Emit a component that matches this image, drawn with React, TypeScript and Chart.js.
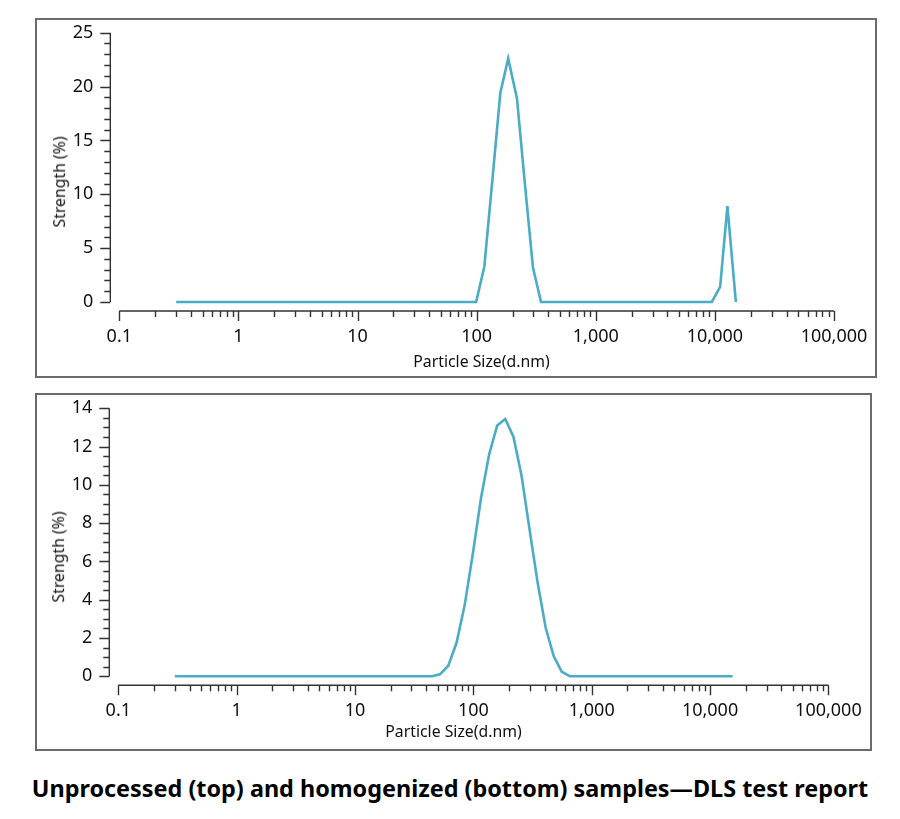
import { useEffect, useRef } from 'react'
import { Chart, registerables } from 'chart.js'

Chart.register(...registerables)

// particle size (d.nm) / strength (%)
const TOP_SIZES = [0.3, 99, 116, 136, 158, 184, 218, 254, 297, 347, 9420, 11070, 12740, 15000]
const TOP_STRENGTH = [0, 0, 3.3, 11.5, 19.4, 22.6, 18.9, 11.0, 3.2, 0, 0, 1.4, 8.9, 0]

const BOTTOM_SIZES = [
  0.3, 44.8, 52.2, 61.4, 72.1, 84.5, 99, 116, 136, 159, 186, 218, 255, 298, 348, 408, 477, 558, 655, 15500,
]
const BOTTOM_STRENGTH = [
  0, 0, 0.1, 0.55, 1.75, 3.72, 6.4, 9.3, 11.6, 13.1, 13.44, 12.52, 10.5, 7.7, 4.95, 2.55, 1.06, 0.24, 0, 0,
]

const X_DECADES = [0.1, 1, 10, 100, 1000, 10000, 100000]

const LINE = '#4bacc6'
const INK = '#111'
const AXIS = '#333'
const FONT = '"Noto Sans", "Open Sans", sans-serif'

type AxesOpts = { yStep: number; yMinor: number }

// axes sit a few px away from the plot area (y axis left of 0.1, x axis below 0)
const detachedAxes = {
  id: 'detachedAxes',
  afterDraw(chart: any, _args: any, opts: AxesOpts) {
    const { ctx, chartArea } = chart
    const xs = chart.scales.x
    const ys = chart.scales.y
    const ax = chartArea.left - 9
    const ay = chartArea.bottom + 9
    ctx.save()
    ctx.strokeStyle = AXIS
    ctx.lineWidth = 1.4
    ctx.beginPath()
    // y axis
    ctx.moveTo(ax, ys.getPixelForValue(ys.max))
    ctx.lineTo(ax, ys.getPixelForValue(0))
    const n = Math.round(ys.max / opts.yMinor)
    for (let i = 0; i <= n; i++) {
      const v = i * opts.yMinor
      const p = Math.round(ys.getPixelForValue(v)) + 0.5
      const major = Math.abs(v / opts.yStep - Math.round(v / opts.yStep)) < 1e-6
      ctx.moveTo(ax - (major ? 10 : 6), p)
      ctx.lineTo(ax, p)
    }
    // x axis
    ctx.moveTo(xs.getPixelForValue(X_DECADES[0]), ay)
    ctx.lineTo(xs.getPixelForValue(X_DECADES[X_DECADES.length - 1]), ay)
    X_DECADES.forEach((d, i) => {
      const p = Math.round(xs.getPixelForValue(d)) + 0.5
      ctx.moveTo(p, ay)
      ctx.lineTo(p, ay + 10)
      if (i < X_DECADES.length - 1) {
        for (let k = 2; k <= 9; k++) {
          const q = Math.round(xs.getPixelForValue(k * d)) + 0.5
          ctx.moveTo(q, ay)
          ctx.lineTo(q, ay + 6)
        }
      }
    })
    ctx.stroke()
    ctx.restore()
  },
}

type Box = { left: number; top: number; width: number; height: number }
type Area = { left: number; right: number; top: number; bottom: number }

type Props = {
  sizes: number[]
  values: number[]
  yMax: number
  yStep: number
  yMinor: number
  box: Box
  area: Area
  yTitleAt: [number, number]
  xTitleAt: [number, number]
}

function DlsChart({ sizes, values, yMax, yStep, yMinor, box, area, yTitleAt, xTitleAt }: Props) {
  const ref = useRef<HTMLCanvasElement>(null)

  // canvas sits inside the 2px frame
  const cx = box.left + 2
  const cy = box.top + 2
  const cw = box.width - 4
  const ch = box.height - 4

  useEffect(() => {
    if (!ref.current) return
    const tickFont = { family: FONT, size: 18 }
    // tick padding is put into tickLength (invisible) so it does not widen the plot margins
    const hiddenGrid = (len: number) => ({
      display: true, drawOnChartArea: false, drawTicks: true, tickLength: len, color: 'rgba(0,0,0,0)',
    })
    const chart = new Chart(ref.current, {
      type: 'line',
      data: {
        datasets: [
          {
            data: sizes.map((s, i) => ({ x: s, y: values[i] })),
            borderColor: LINE,
            borderWidth: 2.6,
            pointRadius: 0,
            tension: 0,
            clip: false as any,
          },
        ],
      },
      options: {
        animation: false,
        responsive: true,
        maintainAspectRatio: false,
        layout: {
          padding: { left: 0, top: area.top - cy, right: cw - (area.right - cx), bottom: 0 },
        },
        plugins: {
          legend: { display: false },
          tooltip: { enabled: false },
          detachedAxes: { yStep, yMinor },
        } as any,
        scales: {
          x: {
            type: 'logarithmic',
            min: X_DECADES[0],
            max: X_DECADES[X_DECADES.length - 1],
            afterBuildTicks: (s: any) => { s.ticks = X_DECADES.map(v => ({ value: v })) },
            afterFit: (s: any) => { s.height = ch - (area.bottom - cy) },
            grid: hiddenGrid(24),
            border: { display: false },
            ticks: {
              autoSkip: false,
              maxRotation: 0,
              padding: 0,
              color: INK,
              font: tickFont,
              callback: (v: any) => Number(v).toLocaleString('en-US'),
            },
          },
          y: {
            min: 0,
            max: yMax,
            afterFit: (s: any) => { s.width = area.left - cx },
            grid: hiddenGrid(26),
            border: { display: false },
            ticks: { stepSize: yStep, padding: 0, color: INK, font: tickFont },
          },
        },
      },
      plugins: [detachedAxes],
    })
    return () => chart.destroy()
  }, [sizes, values, yMax, yStep, yMinor])

  const titleStyle = {
    position: 'absolute' as const,
    fontFamily: FONT,
    fontSize: 15.8,
    lineHeight: 1,
    color: INK,
    whiteSpace: 'nowrap' as const,
  }

  return (
    <>
      <div
        style={{
          position: 'absolute', left: box.left, top: box.top, width: box.width, height: box.height,
          border: '2px solid #6b6b6b', boxSizing: 'border-box',
        }}
      />
      <div style={{ position: 'absolute', left: cx, top: cy, width: cw, height: ch }}>
        <canvas ref={ref} role="img" aria-label="DLS particle size distribution" />
      </div>
      <div style={{ ...titleStyle, left: yTitleAt[0], top: yTitleAt[1], transform: 'translate(-50%,-50%) rotate(-90deg)' }}>
        Strength (%)
      </div>
      <div style={{ ...titleStyle, left: xTitleAt[0], top: xTitleAt[1], transform: 'translate(-50%,-50%)' }}>
        Particle Size(d.nm)
      </div>
    </>
  )
}

export default function App() {
  return (
    <div style={{ position: 'absolute', left: 0, top: 0, width: 900, height: 819, background: '#fff', overflow: 'hidden' }}>
      <DlsChart
        sizes={TOP_SIZES}
        values={TOP_STRENGTH}
        yMax={25}
        yStep={5}
        yMinor={1}
        box={{ left: 35, top: 18, width: 842, height: 360 }}
        area={{ left: 119.3, right: 834, top: 32.7, bottom: 302 }}
        yTitleAt={[60, 182]}
        xTitleAt={[481.5, 362]}
      />
      <DlsChart
        sizes={BOTTOM_SIZES}
        values={BOTTOM_STRENGTH}
        yMax={14}
        yStep={2}
        yMinor={0.5}
        box={{ left: 35, top: 393, width: 837, height: 358 }}
        area={{ left: 118.3, right: 828.4, top: 408.3, bottom: 676.3 }}
        yTitleAt={[58.5, 557]}
        xTitleAt={[453.5, 732]}
      />
      <div
        style={{
          position: 'absolute', left: 0, top: 777, width: 900, textAlign: 'center',
          fontFamily: FONT, fontWeight: 700, fontSize: 23.4, lineHeight: 1, color: '#000', whiteSpace: 'nowrap',
        }}
      >
        Unprocessed (top) and homogenized (bottom) samples—DLS test report
      </div>
    </div>
  )
}
